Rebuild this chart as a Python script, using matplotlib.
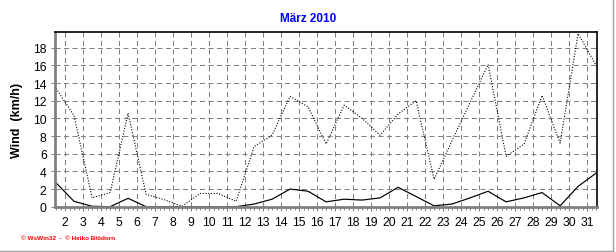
import matplotlib
matplotlib.use("Agg")
import matplotlib.pyplot as plt
from matplotlib.ticker import MultipleLocator
from matplotlib.lines import Line2D

plt.rcParams["font.family"] = ["Liberation Sans", "DejaVu Sans"]

# March 2010, one value per day, plotted at mid-day
days = [d + 0.5 for d in range(1, 32)]
gust = [13.4, 10.3, 1.0, 1.6, 10.6, 1.4, 0.8, 0.05, 1.5, 1.5,
        0.6, 6.8, 8.1, 12.5, 11.3, 7.1, 11.5, 10.0, 8.1, 10.5,
        12.0, 3.1, 7.5, 11.8, 16.1, 5.7, 7.1, 12.6, 7.2, 19.6, 16.0]
wind = [2.7, 0.6, 0.05, 0.0, 0.95, 0.0, 0.0, 0.0, 0.0, 0.0,
        0.0, 0.3, 0.85, 2.0, 1.75, 0.55, 0.85, 0.75, 1.0, 2.2,
        1.15, 0.1, 0.3, 1.0, 1.75, 0.55, 1.0, 1.6, 0.1, 2.3, 3.8]
day_ticks = list(range(2, 32))
y_ticks = list(range(0, 19, 2))

fig = plt.figure(figsize=(6.16, 2.53), dpi=100)
ax = fig.add_axes([55 / 616, 45.3 / 253, 542 / 616, 174.7 / 253])

px = 0.72  # one pixel at 100 dpi
ax.plot(days, gust, color="black", linestyle=(0, (1, 1.5)), linewidth=px * 1.1)
ax.plot(days, wind, color="black", linewidth=px * 1.2)

ax.set_xlim(1.44, 31.55)
ax.set_ylim(0, 19.78)
ax.set_xticks(day_ticks)
ax.set_yticks(y_ticks)
ax.xaxis.set_minor_locator(MultipleLocator(0.25))
ax.grid(True, which="major", color="#808080", linestyle=(0, (5, 3.5)), linewidth=px)

ax.tick_params(axis="both", which="major", labelsize=8.8, color="#808080",
               direction="out", length=3, width=px)
ax.tick_params(axis="x", which="minor", color="#808080", direction="out",
               length=2, width=px)
ax.tick_params(axis="x", pad=4)
ax.tick_params(axis="y", pad=3)

for side in ("top", "right"):
    ax.spines[side].set_color("black")
    ax.spines[side].set_linewidth(1.2)
for side in ("left", "bottom"):
    ax.spines[side].set_color("#808080")
    ax.spines[side].set_linewidth(2)

ax.set_ylabel("Wind  (km/h)", fontsize=9, fontweight="bold", labelpad=7)

fig.text(0.5, 1 - 19 / 253, "März 2010", color="#0000ff", fontsize=8.5,
         fontweight="bold", ha="center", va="center")
fig.text(21 / 616, 1 - 238.5 / 253, "\u00a9 WsWin32  -  \u00a9 Heiko Blödorn",
         color="red", fontsize=4.6, fontweight="bold", ha="left", va="center")

# grey frame at right and bottom of the image
fig.add_artist(Line2D([0, 613 / 616], [1.5 / 253, 1.5 / 253],
                      transform=fig.transFigure, color="#a0a0a0", linewidth=1))
fig.add_artist(Line2D([613 / 616, 613 / 616], [1.5 / 253, 1],
                      transform=fig.transFigure, color="#a0a0a0", linewidth=1))

fig.savefig("out.png", dpi=100)
